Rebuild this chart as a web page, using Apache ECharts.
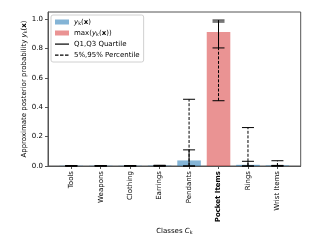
<!DOCTYPE html>
<html>
<head>
<meta charset="utf-8">
<script src="https://cdn.jsdelivr.net/npm/echarts@6/dist/echarts.min.js"></script>
<style>html,body{margin:0;padding:0;background:#fff}#c{width:320px;height:240px}</style>
</head>
<body>
<div id="c"></div>
<script>
const categories = ['Tools','Weapons','Clothing','Earrings','Pendants','Pocket Items','Rings','Wrist Items'];
const posterior = [0.002,0.002,0.002,0.003,0.038,null,0.008,0.004];
const maxPosterior = [null,null,null,null,null,0.914,null,null];
const q1 = [0,0,0,0,0,0.805,0,0];
const q3 = [0.001,0.001,0.001,0.002,0.11,0.982,0.032,0.004];
const p5 = [0,0,0,0,0,0.445,0,0];
const p95 = [0.003,0.003,0.003,0.005,0.455,0.995,0.262,0.036];
const yTicks = [0,0.2,0.4,0.6,0.8,1.0];
const highlighted = 'Pocket Items';

const FONT = 'DejaVu Sans';
const idx = categories.map((_, i) => i);

function errRender(dashed) {
  return function (params, api) {
    const x = api.value(0), lo = api.value(1), hi = api.value(2);
    const a = api.coord([x, lo]), b = api.coord([x, hi]);
    const hw = 6;
    return {
      type: 'group',
      children: [
        {type: 'line', shape: {x1: a[0], y1: a[1], x2: b[0], y2: b[1]},
         style: {stroke: '#000', lineWidth: 1, lineDash: dashed ? [3, 1.6] : null}},
        {type: 'line', shape: {x1: a[0] - hw, y1: a[1], x2: a[0] + hw, y2: a[1]},
         style: {stroke: '#000', lineWidth: 1}},
        {type: 'line', shape: {x1: b[0] - hw, y1: b[1], x2: b[0] + hw, y2: b[1]},
         style: {stroke: '#000', lineWidth: 1}}
      ]
    };
  };
}

const box = 'M0,0L0,0M14,7L14,7';
const patchIcon = 'path://' + box + 'M0,1H14V6H0Z';
const solidIcon = 'path://' + box + 'M0,3H14V4.2H0Z';
const dashIcon = 'path://' + box + 'M0,3H3.5V4.2H0ZM5,3H8.5V4.2H5ZM10,3H13.5V4.2H10Z';

const legendNames = {
  yk: '{it|y}{sub|k}({b|x})',
  ymax: 'max({it|y}{sub|k}({b|x}))',
  'Q1,Q3 Quartile': 'Q1,Q3 Quartile',
  '5%,95% Percentile': '5%,95% Percentile'
};
const richBase = {
  it: {fontStyle: 'italic', fontSize: 7, fontFamily: FONT, color: '#000'},
  b: {fontWeight: 'bold', fontSize: 7, fontFamily: FONT, color: '#000'},
  sub: {fontSize: 5, fontFamily: FONT, color: '#000', verticalAlign: 'bottom', padding: [3, 0, 0, 0]}
};

const chart = echarts.init(document.getElementById('c'), null, {renderer: 'canvas'});
chart.setOption({
  animation: false,
  textStyle: {fontFamily: FONT},
  grid: {left: 48, right: 19.3, top: 12, bottom: 72.3, show: true, borderColor: '#555', borderWidth: 1, containLabel: false},
  legend: {
    orient: 'vertical', left: 51, top: 15,
    itemWidth: 14, itemHeight: 7, itemGap: 3,
    padding: [3, 4, 3, 4],
    borderColor: '#d0d0d0', borderWidth: 1, borderRadius: 2, backgroundColor: '#fff',
    selectedMode: false,
    data: [
      {name: 'yk', icon: patchIcon},
      {name: 'ymax', icon: patchIcon},
      {name: 'Q1,Q3 Quartile', icon: solidIcon, itemStyle: {color: '#000'}},
      {name: '5%,95% Percentile', icon: dashIcon, itemStyle: {color: '#000'}}
    ],
    formatter: n => legendNames[n],
    textStyle: {fontSize: 7, fontFamily: FONT, color: '#000', lineHeight: 8, rich: richBase}
  },
  xAxis: {
    type: 'value', min: -0.79, max: 7.79,
    name: 'Classes {it|C}{sub|k}', nameLocation: 'middle', nameGap: 61, nameMoveOverlap: false,
    nameTextStyle: {fontSize: 7, fontFamily: FONT, color: '#000', rich: richBase},
    axisLine: {show: true, onZero: false, lineStyle: {color: '#555', width: 1}},
    axisTick: {show: true, length: 3, customValues: idx, lineStyle: {color: '#555'}},
    splitLine: {show: false},
    axisLabel: {
      customValues: idx, rotate: 90, margin: 5, fontSize: 7, fontFamily: FONT, color: '#000',
      formatter: v => {
        const c = categories[Math.round(v)];
        return c === highlighted ? '{bb|' + c + '}' : c;
      },
      rich: {bb: {fontWeight: 'bold', fontSize: 7, fontFamily: FONT, color: '#000'}}
    }
  },
  yAxis: {
    type: 'value', min: 0, max: 1.05,
    name: 'Approximate posterior probability {it|y}{sub|k}({b|x})',
    nameLocation: 'middle', nameGap: 20, nameRotate: 90, nameMoveOverlap: false,
    nameTextStyle: {fontSize: 7, fontFamily: FONT, color: '#000', rich: richBase},
    axisLine: {show: true, onZero: false, lineStyle: {color: '#555', width: 1}},
    axisTick: {show: true, length: 3, customValues: yTicks, lineStyle: {color: '#555'}},
    splitLine: {show: false},
    axisLabel: {customValues: yTicks, margin: 5, fontSize: 7, fontFamily: FONT, color: '#000',
      formatter: v => v.toFixed(1)}
  },
  series: [
    {name: 'yk', type: 'bar', barWidth: '80%', barGap: '-100%',
     itemStyle: {color: 'rgba(31,119,180,0.55)'},
     data: posterior.map((v, i) => [i, v])},
    {name: 'ymax', type: 'bar', barWidth: '80%', barGap: '-100%',
     itemStyle: {color: 'rgba(214,39,40,0.5)'},
     data: maxPosterior.map((v, i) => [i, v])},
    {name: '5%,95% Percentile', type: 'custom', renderItem: errRender(true),
     itemStyle: {color: '#000'}, encode: {x: 0, y: [1, 2]}, z: 3,
     data: idx.map(i => [i, p5[i], p95[i]])},
    {name: 'Q1,Q3 Quartile', type: 'custom', renderItem: errRender(false),
     itemStyle: {color: '#000'}, encode: {x: 0, y: [1, 2]}, z: 4,
     data: idx.map(i => [i, q1[i], q3[i]])}
  ]
});
</script>
</body>
</html>
